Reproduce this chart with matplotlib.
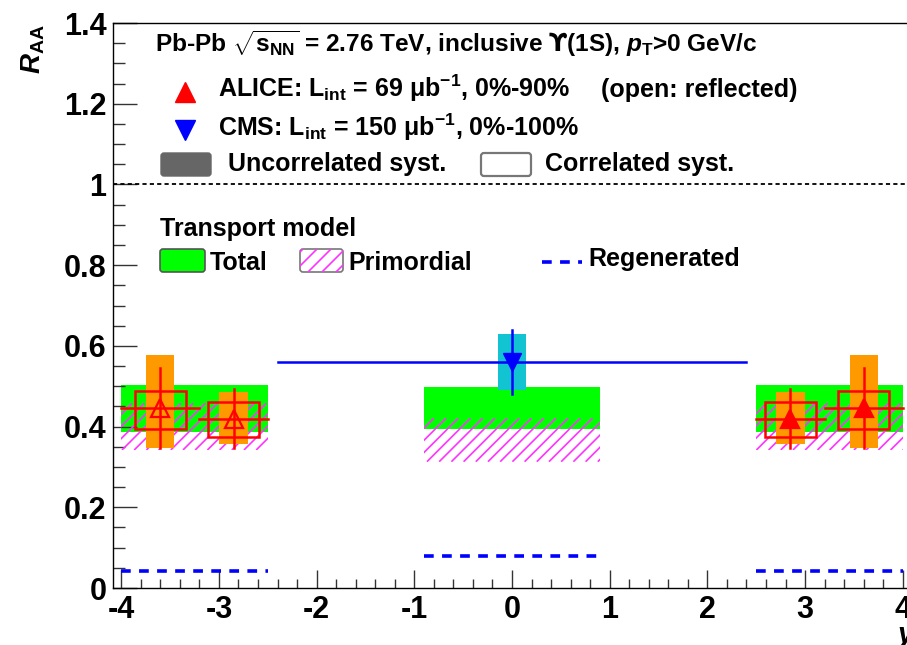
import matplotlib
matplotlib.use('Agg')
import matplotlib.pyplot as plt
import numpy as np
from matplotlib.patches import Rectangle, FancyBboxPatch
from matplotlib.collections import LineCollection
from matplotlib.lines import Line2D
from matplotlib.transforms import IdentityTransform
from matplotlib.ticker import MultipleLocator, FuncFormatter

# ---------------- data ----------------
# ALICE inclusive Upsilon(1S), forward rapidity bins
alice_y_lo = [2.5, 3.2]
alice_y_hi = [3.2, 4.0]
alice_y = [2.85, 3.6]
alice_raa = [0.42, 0.445]
alice_stat = [0.074, 0.099]
alice_unc_up = [0.066, 0.132]
alice_unc_dn = [0.062, 0.099]
alice_cor_up = [0.041, 0.044]
alice_cor_dn = [0.046, 0.050]

# CMS inclusive Upsilon(1S), |y| < 2.4
cms_y = [0.0]
cms_y_half = [2.4]
cms_raa = [0.56]
cms_stat = [0.08]
cms_syst = [0.07]

# Transport model bands (rapidity ranges)
model_lo = [-4.0, -0.9, 2.5]
model_hi = [-2.5, 0.9, 4.0]
total_lo = [0.387, 0.393, 0.387]
total_hi = [0.503, 0.499, 0.503]
prim_lo = [0.342, 0.313, 0.342]
prim_hi = [0.458, 0.421, 0.458]
regen = [0.043, 0.079, 0.043]

x_ticks = [-4, -3, -2, -1, 0, 1, 2, 3, 4]
y_ticks = [0, 0.2, 0.4, 0.6, 0.8, 1.0, 1.2, 1.4]

# ---------------- style ----------------
plt.rcParams['font.family'] = ['Liberation Sans', 'DejaVu Sans']
plt.rcParams['font.weight'] = 'bold'
plt.rcParams['mathtext.fontset'] = 'custom'
plt.rcParams['mathtext.rm'] = 'Liberation Sans:bold'
plt.rcParams['mathtext.it'] = 'Liberation Sans:italic:bold'
plt.rcParams['mathtext.bf'] = 'Liberation Sans:bold'
plt.rcParams['mathtext.sf'] = 'DejaVu Sans:bold'
plt.rcParams['lines.scale_dashes'] = False
plt.rcParams['axes.unicode_minus'] = False

RED = '#ff0000'
ORANGE = '#ff9900'
GREEN = '#00ff00'
CYAN = '#12c4d2'
BLUE = '#0000ff'
MAGENTA = '#ff33ff'

W, H = 907, 645
fig = plt.figure(figsize=(W / 100, H / 100), dpi=100)
ax = fig.add_axes([113.4 / W, (H - 588) / H, 797.2 / W, 565 / H])
ax.set_xlim(-4.08, 4.08)
ax.set_ylim(0, 1.4)


def hatch_segments(x0, y0, x1, y1, spacing):
    h = y1 - y0
    start = np.floor((x0 - h) / spacing) * spacing
    return [[(c, y0), (c + h, y1)] for c in np.arange(start, x1 + spacing, spacing)]


# Transport model: total band, primordial (hatched), regenerated (dashed)
for lo, hi, tlo, thi, plo, phi, rg in zip(model_lo, model_hi, total_lo, total_hi,
                                          prim_lo, prim_hi, regen):
    ax.add_patch(Rectangle((lo, tlo), hi - lo, thi - tlo, fc=GREEN, ec='none', zorder=1))
    (dx0, dy0), (dx1, dy1) = ax.transData.transform([(lo, plo), (hi, phi)])
    lc = LineCollection(hatch_segments(dx0, dy0, dx1, dy1, 12.2), colors=MAGENTA,
                        linewidths=1.2, transform=IdentityTransform(), zorder=2)
    ax.add_collection(lc, autolim=False)
    lc.set_clip_path(Rectangle((lo, plo), hi - lo, phi - plo, transform=ax.transData))
    ax.plot([lo, hi], [rg, rg], color=BLUE, lw=2.6, dashes=(7, 6), zorder=3,
            solid_capstyle='butt', dash_capstyle='butt')

# Reference line at unity
ax.axhline(1.0, color='black', lw=1.3, dashes=(3, 2.3), zorder=3)

# CMS
for xc, hw, v, st, sy in zip(cms_y, cms_y_half, cms_raa, cms_stat, cms_syst):
    ax.add_patch(Rectangle((xc - 0.145, v - sy), 0.29, 2 * sy, fc=CYAN, ec='none', zorder=4))
    ax.plot([xc - hw, xc + hw], [v, v], color=BLUE, lw=1.8, zorder=6)
    ax.plot([xc, xc], [v - st, v + st], color=BLUE, lw=1.8, zorder=6)
    ax.plot([xc], [v], marker='v', ms=13, mfc=BLUE, mec=BLUE, ls='none', zorder=7)

# ALICE, measured (filled) and reflected (open)
for sign, filled in [(1, True), (-1, False)]:
    for xc, lo, hi, v, st, uu, ud, cu, cd in zip(alice_y, alice_y_lo, alice_y_hi, alice_raa,
                                                alice_stat, alice_unc_up, alice_unc_dn,
                                                alice_cor_up, alice_cor_dn):
        xs = sign * xc
        x0, x1 = sorted([sign * lo, sign * hi])
        ax.add_patch(Rectangle((xs - 0.145, v - ud), 0.29, uu + ud, fc=ORANGE, ec='none', zorder=4))
        ax.add_patch(Rectangle((xs - 0.26, v - cd), 0.52, cu + cd, fill=False, ec=RED,
                               lw=1.8, zorder=5))
        ax.plot([x0, x1], [v, v], color=RED, lw=1.8, zorder=6)
        ax.plot([xs, xs], [v - st, v + st], color=RED, lw=1.8, zorder=6)
        ax.plot([xs], [v], marker='^', ms=13, mfc=RED if filled else 'none', mec=RED,
                mew=1.6, ls='none', zorder=7)

# Axes styling
for s in ax.spines.values():
    s.set_linewidth(1.0)
ax.set_xticks(x_ticks)
ax.set_yticks(y_ticks)
ax.xaxis.set_minor_locator(MultipleLocator(0.2))
ax.yaxis.set_minor_locator(MultipleLocator(0.05))
ax.xaxis.set_major_formatter(FuncFormatter(lambda v, p: '%d' % round(v)))
ax.yaxis.set_major_formatter(FuncFormatter(lambda v, p: '%g' % round(v, 2)))
ax.tick_params(axis='x', which='major', direction='in', length=13, width=1.0,
               color='#333333', labelsize=22, pad=5)
ax.tick_params(axis='x', which='minor', direction='in', length=6.5, width=1.0, color='#333333')
ax.tick_params(axis='y', which='major', direction='in', length=17, width=1.0,
               color='#333333', labelsize=22, pad=5)
ax.tick_params(axis='y', which='minor', direction='in', length=8.6, width=1.0, color='#333333')

# Axis titles
fig.text(33 / W, 1 - 24 / H, r'$R_{\rm AA}$', rotation=90, ha='center', va='top', fontsize=20)
fig.text(896 / W, 1 - 623 / H, r'$y$', ha='left', va='top', fontsize=21)


# ---------------- legend (pixel layout) ----------------
def P(x, y):
    return (x / W, 1 - y / H)


def ftext(x, y, s, size=18, **kw):
    fig.text(*P(x, y), s, fontsize=size, va='baseline', ha='left', **kw)


ftext(155, 52, r'Pb-Pb $\sqrt{\mathrm{s}_{\rm NN}}$ = 2.76 TeV, inclusive $\mathsf{ϒ}$(1S), $p_{\rm T}$>0 GeV/c',
      size=17.6)
fig.add_artist(Line2D([P(185, 92)[0]], [P(185, 92)[1]], marker='^', ms=14, color=RED,
                      transform=fig.transFigure))
ftext(218, 97, r'ALICE: L$_{\rm int}$ = 69 μb$^{-1}$, 0%-90%')
ftext(601, 97, '(open: reflected)')
fig.add_artist(Line2D([P(185, 130)[0]], [P(185, 130)[1]], marker='v', ms=14, color=BLUE,
                      transform=fig.transFigure))
ftext(218, 136, r'CMS: L$_{\rm int}$ = 150 μb$^{-1}$, 0%-100%')


def pbox(x0, y0, x1, y1, **kw):
    return FancyBboxPatch((x0, H - y1), x1 - x0, y1 - y0, boxstyle='round,pad=0,rounding_size=3',
                          transform=IdentityTransform(), **kw)


fig.add_artist(pbox(161, 153, 211, 176, fc='#666666', ec='#666666', lw=1))
ftext(228, 171, 'Uncorrelated syst.')
fig.add_artist(pbox(481, 153, 531, 176, fc='white', ec='#777777', lw=1.6))
ftext(545, 171, 'Correlated syst.')

ftext(160, 236, 'Transport model')
fig.add_artist(pbox(160, 249, 205, 272, fc=GREEN, ec='#555555', lw=1.2))
ftext(210, 270, 'Total')
hb = pbox(300, 249, 343, 272, fc='white', ec='#777777', lw=1.2)
fig.add_artist(hb)
hl = LineCollection(hatch_segments(300, H - 272, 343, H - 249, 14), colors=MAGENTA,
                    linewidths=1.2, transform=IdentityTransform())
fig.add_artist(hl)
hl.set_clip_path(Rectangle((300, H - 272), 43, 23, transform=IdentityTransform()))
ftext(348, 270, 'Primordial')
fig.add_artist(Line2D([542 / W, 582 / W], [1 - 262 / H, 1 - 262 / H], color=BLUE, lw=2.6,
                      dashes=(7, 6), transform=fig.transFigure))
ftext(588, 266, 'Regenerated')

fig.savefig('out.png', dpi=100)
